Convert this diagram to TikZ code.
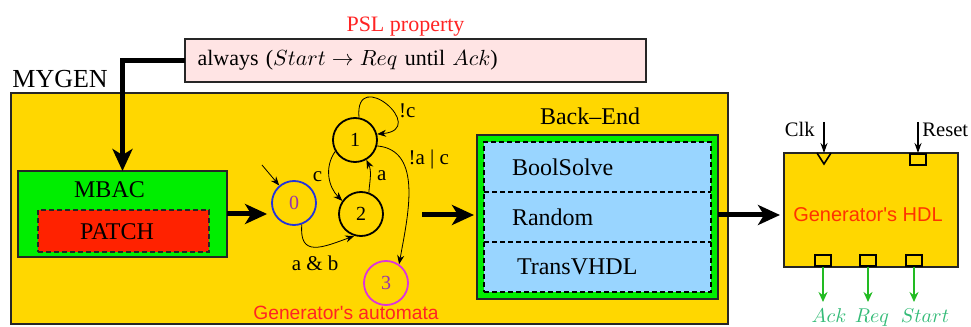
\documentclass[tikz,border=0pt]{standalone}
\usepackage{fontspec}
\setmainfont{Liberation Serif}
\newfontfamily\hdlfont{Liberation Sans}
\usetikzlibrary{arrows.meta,fit,positioning}

\definecolor{genyellow}{HTML}{FFD700}
\definecolor{mbacgreen}{HTML}{00EE00}
\definecolor{patchred}{HTML}{FF2200}
\definecolor{solveblue}{HTML}{99D5FF}
\definecolor{pslpink}{HTML}{FFE4E4}
\definecolor{titlered}{HTML}{FF2424}
\definecolor{hdlred}{HTML}{FF3300}
\definecolor{stateblue}{HTML}{2233DD}
\definecolor{statemagenta}{HTML}{DD33DD}
\definecolor{numpurple}{HTML}{9933AA}
\definecolor{outgreen}{HTML}{22BB22}
\definecolor{outtext}{HTML}{33BB77}

\begin{document}
\begin{tikzpicture}[x=0.5pt,y=0.5pt,
    block/.style={draw=black!85,line width=0.8pt,inner sep=0pt,outer sep=0pt},
    dashline/.style={line width=0.8pt,dash pattern=on 2.5pt off 1.5pt},
    bigarrow/.style={line width=2.5pt,-{Stealth[length=11pt,width=10pt,inset=3pt]}},
    state/.style={circle,draw,line width=0.9pt,minimum size=22pt,inner sep=0pt,
      font=\fontsize{10}{12}\selectfont},
    trans/.style={line width=0.4pt,-{Stealth[length=4.5pt,width=3.5pt]}},
    lbl/.style={font=\fontsize{10.5}{12}\selectfont},
    solver/.style={fill=solveblue,minimum width=113.5pt,minimum height=25pt,text width=85.5pt,
      align=left,inner xsep=14pt,inner ysep=0pt,outer sep=0pt,font=\fontsize{12}{14}\selectfont},
    portbox/.style={draw,line width=0.8pt,fill=genyellow,minimum width=8pt,
      minimum height=5.5pt,inner sep=0pt},
    sigarrow/.style={line width=0.7pt,-{Stealth[length=5pt,width=3.5pt]}},
    outarrow/.style={draw=outgreen,line width=1pt,-{Stealth[length=5pt,width=4.5pt]}}
  ]
  \useasboundingbox (0,0) rectangle (971,327);

  % property
  \node[block,fill=pslpink,minimum width=230.5pt,minimum height=21.5pt,text width=218pt,
    align=left,inner xsep=6pt,font=\fontsize{11}{13}\selectfont] (psl) at (415.5,266.5)
    {always ($Start \rightarrow Req$ until $Ack$)};
  \node[text=titlered,anchor=base,font=\fontsize{11}{13}\selectfont] (psltitle) at (405.5,295) {PSL property};

  % generator
  \node[block,fill=genyellow,fit={(11,3) (728,234)}] (mygen) {};
  \node[anchor=base west,inner sep=0pt,font=\fontsize{13}{15}\selectfont] (mygentitle) at (12,239) {MYGEN};

  \node[block,fill=mbacgreen,fit={(18,70) (227,156)}] (mbac) {};
  \node[anchor=base,font=\fontsize{12}{14}\selectfont] (mbactext) at (109.5,129) {MBAC};
  \node[block,dashline,fill=patchred,fit={(38,75) (209,117)}] (patch) {};
  \node[anchor=base,font=\fontsize{12}{14}\selectfont] (patchtext) at (117,87) {PATCH};

  \draw[bigarrow] (psl.west) -| (mbac.north);

  % automaton
  \node[state,draw=stateblue,text=numpurple] (q0) at (294,124) {0};
  \node[state] (q1) at (355,187) {1};
  \node[state] (q2) at (361,113) {2};
  \node[state,draw=statemagenta,text=numpurple] (q3) at (386,44) {3};
  \coordinate (init) at (262,162);

  \draw[bigarrow,shorten >=2pt] (mbac.east) -- (mbac.east -| q0.west);

  \draw[trans] (init) -- (q0);
  \draw[trans] (q0.-70) to[out=-95,in=200,looseness=1.6] node[lbl,below=1pt] {a \& b} (q2.253);
  \draw[trans] (q1.210) to[out=235,in=135] node[lbl,left] {c} (q2.145);
  \draw[trans] (q2.70) to[out=85,in=-65] node[lbl,right] {a} (q1.-60);
  \draw[trans] (q1.-15) to[out=-5,in=80] node[lbl,pos=0.25,right] {!a | c} (q3.55);
  \draw[trans] (q1.80) to[out=95,in=5,looseness=5.5] node[lbl,pos=0.6,right] {!c} (q1.15);

  \node[text=titlered,anchor=base,font=\hdlfont\fontsize{9.6}{11}\selectfont] (autotitle) at (346,7)
    {Generator's automata};

  % back end
  \node[block,fill=mbacgreen,fit={(477,28) (718,192)}] (bend) {};
  \node[anchor=base,font=\fontsize{12}{14}\selectfont] (bendtitle) at (590,202) {Back--End};
  \node[solver,anchor=north west] (bool) at (484,185) {BoolSolve};
  \node[solver,below=0pt of bool] (random) {Random};
  \node[solver,below=0pt of random] (transvhdl) {\hspace*{2.5pt}TransVHDL};
  \node[dashline,draw,inner sep=0pt,fit=(bool) (transvhdl)] (solvers) {};
  \draw[dashline] (bool.south west) -- (bool.south east);
  \draw[dashline] (random.south west) -- (random.south east);

  \coordinate (autoout) at (422,112);
  \draw[bigarrow,shorten >=1.5pt] (autoout) -- (autoout -| bend.west);

  % generated HDL
  \node[block,fill=genyellow,fit={(784,60) (958,174)}] (hdl) {};
  \node[text=hdlred,anchor=base,font=\hdlfont\fontsize{10}{12}\selectfont] (hdltext) at (868,105)
    {Generator's HDL};
  \draw[bigarrow,shorten >=2pt] (bend.east |- autoout) -- (hdl.west |- autoout);

  \draw[line width=0.8pt] (817,174) -- (824,163) -- (831,174);
  \node[portbox,anchor=north] (resetport) at (918,174) {};

  \coordinate (clkin) at (824,205);
  \coordinate (resetin) at (918,205);
  \draw[sigarrow] (clkin) -- (clkin |- hdl.north);
  \draw[sigarrow] (resetin) -- (resetport.north);
  \node[anchor=base east,inner sep=0pt,font=\fontsize{10.3}{12}\selectfont] (clk) at (815,190) {Clk};
  \node[anchor=base west,inner sep=0pt,font=\fontsize{10.3}{12}\selectfont] (reset) at (922,190) {Reset};

  \foreach \port/\sig/\x/\lx in {ack/Ack/823/829,req/Req/868/872,start/Start/914/925} {
    \node[portbox,anchor=south] (\port port) at (\x,60) {};
    \coordinate (\port end) at (\x,25);
    \node[text=outtext,anchor=base,inner sep=0pt,font=\fontsize{10}{12}\selectfont] (\port) at (\lx,4) {$\sig$};
    \draw[outarrow] (\port port) -- (\port end);
  }
\end{tikzpicture}
\end{document}
